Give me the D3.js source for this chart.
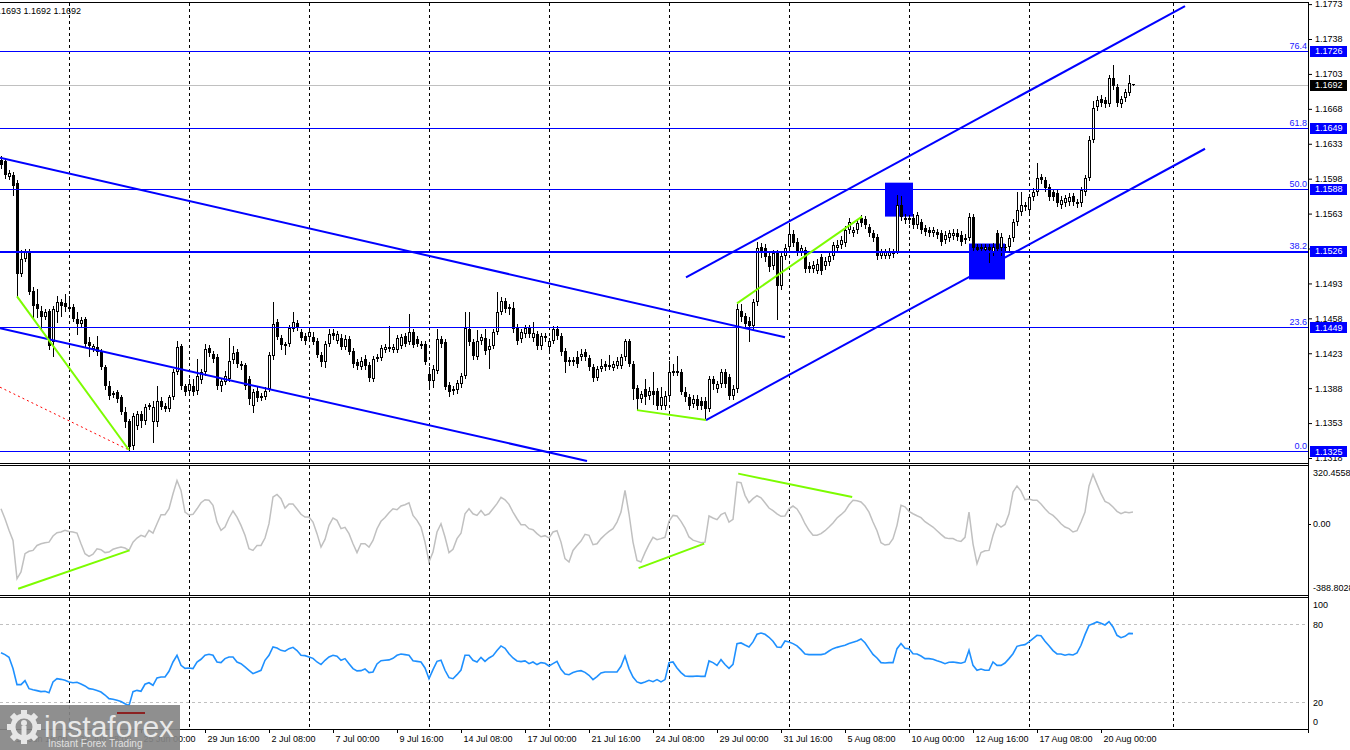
<!DOCTYPE html>
<html>
<head>
<meta charset="utf-8">
<script src="https://cdn.jsdelivr.net/npm/d3@7"></script>
<style>
body { margin: 0; background: #fff; overflow: hidden; }
text { font-family: "Liberation Sans", Arial, sans-serif; }
</style>
</head>
<body>
<svg id="chart" width="1350" height="750"></svg>
<script>
// 4h candles, [open, high, low, close]
var candles = [
[1.1617,1.1621,1.1609,1.1612],[1.1616,1.1618,1.1599,1.1602],[1.1600,1.1607,1.1598,1.1604],[1.1602,1.1605,1.1582,1.1591],
[1.1594,1.1597,1.1480,1.1502],[1.1502,1.1527,1.1500,1.1517],[1.1517,1.1528,1.1515,1.1524],[1.1525,1.1528,1.1482,1.1484],
[1.1485,1.1489,1.1457,1.1470],[1.1472,1.1487,1.1459,1.1467],[1.1465,1.1470,1.1447,1.1459],[1.1459,1.1467,1.1457,1.1464],
[1.1465,1.1467,1.1427,1.1430],[1.1434,1.1470,1.1420,1.1467],[1.1464,1.1480,1.1454,1.1474],[1.1474,1.1477,1.1460,1.1470],
[1.1473,1.1482,1.1465,1.1469],[1.1469,1.1480,1.1465,1.1467],[1.1469,1.1472,1.1455,1.1457],[1.1457,1.1464,1.1442,1.1452],
[1.1452,1.1459,1.1450,1.1456],[1.1457,1.1459,1.1430,1.1432],[1.1434,1.1439,1.1420,1.1430],[1.1427,1.1432,1.1425,1.1430],
[1.1429,1.1440,1.1421,1.1424],[1.1425,1.1427,1.1407,1.1409],[1.1409,1.1411,1.1387,1.1390],[1.1390,1.1395,1.1377,1.1380],
[1.1381,1.1385,1.1379,1.1383],[1.1384,1.1386,1.1374,1.1377],[1.1379,1.1381,1.1362,1.1364],[1.1364,1.1369,1.1349,1.1354],
[1.1355,1.1357,1.1326,1.1329],[1.1330,1.1363,1.1327,1.1360],[1.1350,1.1365,1.1347,1.1362],[1.1362,1.1365,1.1349,1.1355],
[1.1355,1.1372,1.1352,1.1369],[1.1369,1.1373,1.1367,1.1371],[1.1354,1.1375,1.1334,1.1369],[1.1354,1.1390,1.1350,1.1375],
[1.1375,1.1379,1.1367,1.1369],[1.1370,1.1373,1.1365,1.1367],[1.1367,1.1381,1.1365,1.1379],[1.1379,1.1407,1.1377,1.1404],
[1.1404,1.1435,1.1402,1.1429],[1.1430,1.1432,1.1387,1.1390],[1.1390,1.1392,1.1381,1.1384],[1.1385,1.1397,1.1382,1.1392],
[1.1390,1.1397,1.1381,1.1384],[1.1385,1.1417,1.1382,1.1400],[1.1396,1.1407,1.1393,1.1404],[1.1404,1.1432,1.1401,1.1427],
[1.1428,1.1431,1.1420,1.1423],[1.1422,1.1425,1.1414,1.1417],[1.1419,1.1422,1.1387,1.1390],[1.1390,1.1398,1.1385,1.1395],
[1.1394,1.1405,1.1392,1.1400],[1.1397,1.1438,1.1395,1.1415],[1.1416,1.1430,1.1413,1.1423],[1.1424,1.1427,1.1409,1.1412],
[1.1412,1.1415,1.1407,1.1410],[1.1411,1.1413,1.1387,1.1390],[1.1397,1.1400,1.1372,1.1377],[1.1370,1.1387,1.1364,1.1384],
[1.1385,1.1389,1.1375,1.1378],[1.1378,1.1383,1.1376,1.1380],[1.1379,1.1389,1.1377,1.1385],[1.1387,1.1424,1.1385,1.1421],
[1.1420,1.1474,1.1417,1.1452],[1.1454,1.1457,1.1437,1.1439],[1.1438,1.1441,1.1427,1.1431],[1.1432,1.1434,1.1422,1.1430],
[1.1432,1.1451,1.1430,1.1448],[1.1447,1.1464,1.1445,1.1454],[1.1453,1.1456,1.1446,1.1449],[1.1444,1.1447,1.1436,1.1438],
[1.1440,1.1443,1.1432,1.1435],[1.1439,1.1447,1.1437,1.1444],[1.1439,1.1444,1.1432,1.1434],[1.1435,1.1438,1.1419,1.1421],
[1.1421,1.1424,1.1410,1.1414],[1.1414,1.1435,1.1409,1.1432],[1.1432,1.1447,1.1430,1.1442],[1.1443,1.1447,1.1437,1.1440],
[1.1435,1.1445,1.1433,1.1442],[1.1438,1.1442,1.1427,1.1429],[1.1429,1.1441,1.1427,1.1437],[1.1437,1.1440,1.1422,1.1424],
[1.1425,1.1428,1.1409,1.1412],[1.1414,1.1417,1.1407,1.1410],[1.1409,1.1419,1.1407,1.1415],[1.1417,1.1421,1.1407,1.1410],
[1.1411,1.1414,1.1395,1.1398],[1.1397,1.1420,1.1395,1.1417],[1.1417,1.1422,1.1415,1.1419],[1.1418,1.1431,1.1416,1.1428],
[1.1426,1.1432,1.1424,1.1429],[1.1429,1.1450,1.1425,1.1427],[1.1426,1.1432,1.1424,1.1429],[1.1426,1.1441,1.1424,1.1438],
[1.1430,1.1442,1.1428,1.1439],[1.1440,1.1443,1.1430,1.1432],[1.1434,1.1462,1.1432,1.1444],[1.1444,1.1447,1.1429,1.1431],
[1.1437,1.1440,1.1430,1.1432],[1.1430,1.1435,1.1428,1.1432],[1.1432,1.1435,1.1412,1.1414],[1.1402,1.1409,1.1387,1.1395],
[1.1395,1.1411,1.1389,1.1407],[1.1405,1.1447,1.1403,1.1437],[1.1437,1.1440,1.1429,1.1432],[1.1434,1.1437,1.1387,1.1389],
[1.1391,1.1394,1.1380,1.1384],[1.1385,1.1390,1.1382,1.1387],[1.1386,1.1396,1.1383,1.1393],[1.1392,1.1403,1.1389,1.1400],
[1.1400,1.1464,1.1398,1.1448],[1.1447,1.1464,1.1431,1.1434],[1.1434,1.1437,1.1417,1.1420],[1.1419,1.1446,1.1417,1.1435],
[1.1435,1.1442,1.1432,1.1439],[1.1438,1.1447,1.1422,1.1425],[1.1426,1.1437,1.1408,1.1430],[1.1430,1.1447,1.1428,1.1444],
[1.1444,1.1484,1.1442,1.1464],[1.1464,1.1479,1.1462,1.1475],[1.1475,1.1478,1.1464,1.1467],[1.1467,1.1472,1.1462,1.1469],
[1.1468,1.1474,1.1444,1.1447],[1.1449,1.1452,1.1432,1.1435],[1.1437,1.1447,1.1434,1.1444],[1.1442,1.1451,1.1439,1.1448],
[1.1448,1.1451,1.1439,1.1442],[1.1438,1.1454,1.1435,1.1443],[1.1442,1.1445,1.1427,1.1430],[1.1430,1.1443,1.1427,1.1440],
[1.1438,1.1443,1.1435,1.1440],[1.1429,1.1438,1.1426,1.1435],[1.1435,1.1450,1.1433,1.1447],[1.1447,1.1450,1.1437,1.1440],
[1.1440,1.1443,1.1421,1.1424],[1.1425,1.1428,1.1404,1.1414],[1.1416,1.1419,1.1411,1.1414],[1.1414,1.1419,1.1411,1.1416],
[1.1419,1.1425,1.1409,1.1412],[1.1419,1.1427,1.1416,1.1422],[1.1424,1.1427,1.1416,1.1419],[1.1418,1.1421,1.1406,1.1409],
[1.1409,1.1412,1.1395,1.1398],[1.1398,1.1410,1.1396,1.1407],[1.1407,1.1417,1.1405,1.1410],[1.1412,1.1415,1.1406,1.1409],
[1.1409,1.1421,1.1407,1.1411],[1.1408,1.1415,1.1406,1.1412],[1.1410,1.1419,1.1408,1.1415],[1.1410,1.1422,1.1408,1.1419],
[1.1419,1.1437,1.1416,1.1435],[1.1435,1.1437,1.1410,1.1412],[1.1412,1.1415,1.1377,1.1387],[1.1388,1.1391,1.1367,1.1377],
[1.1377,1.1385,1.1374,1.1382],[1.1387,1.1397,1.1372,1.1379],[1.1380,1.1389,1.1377,1.1385],[1.1385,1.1404,1.1372,1.1381],
[1.1385,1.1388,1.1367,1.1370],[1.1370,1.1389,1.1367,1.1379],[1.1370,1.1385,1.1367,1.1380],[1.1380,1.1415,1.1377,1.1404],
[1.1403,1.1412,1.1401,1.1405],[1.1405,1.1420,1.1401,1.1403],[1.1404,1.1407,1.1382,1.1384],[1.1384,1.1389,1.1375,1.1379],
[1.1379,1.1382,1.1367,1.1370],[1.1372,1.1381,1.1369,1.1377],[1.1377,1.1381,1.1367,1.1370],[1.1375,1.1379,1.1367,1.1370],
[1.1375,1.1379,1.1357,1.1367],[1.1367,1.1400,1.1365,1.1397],[1.1397,1.1400,1.1387,1.1392],[1.1387,1.1395,1.1384,1.1392],
[1.1392,1.1407,1.1389,1.1404],[1.1404,1.1407,1.1389,1.1392],[1.1399,1.1402,1.1377,1.1380],[1.1380,1.1391,1.1377,1.1387],
[1.1387,1.1472,1.1384,1.1467],[1.1465,1.1472,1.1455,1.1459],[1.1460,1.1463,1.1449,1.1452],[1.1455,1.1459,1.1435,1.1450],
[1.1450,1.1477,1.1447,1.1474],[1.1474,1.1535,1.1471,1.1529],[1.1530,1.1534,1.1519,1.1525],[1.1529,1.1533,1.1515,1.1519],
[1.1520,1.1523,1.1505,1.1509],[1.1510,1.1527,1.1507,1.1523],[1.1523,1.1527,1.1457,1.1490],[1.1490,1.1525,1.1487,1.1520],
[1.1520,1.1533,1.1517,1.1529],[1.1530,1.1554,1.1527,1.1543],[1.1543,1.1547,1.1531,1.1534],[1.1535,1.1539,1.1521,1.1524],
[1.1524,1.1532,1.1521,1.1529],[1.1527,1.1530,1.1504,1.1507],[1.1510,1.1514,1.1504,1.1507],[1.1507,1.1515,1.1504,1.1511],
[1.1505,1.1517,1.1503,1.1512],[1.1519,1.1522,1.1502,1.1505],[1.1510,1.1519,1.1507,1.1515],[1.1514,1.1525,1.1511,1.1520],
[1.1520,1.1535,1.1517,1.1532],[1.1529,1.1537,1.1526,1.1532],[1.1532,1.1541,1.1529,1.1537],[1.1534,1.1551,1.1531,1.1547],
[1.1547,1.1559,1.1544,1.1555],[1.1544,1.1550,1.1541,1.1547],[1.1547,1.1558,1.1544,1.1554],[1.1559,1.1562,1.1551,1.1554],
[1.1558,1.1561,1.1549,1.1552],[1.1550,1.1553,1.1541,1.1544],[1.1544,1.1547,1.1536,1.1539],[1.1540,1.1543,1.1517,1.1520],
[1.1520,1.1528,1.1518,1.1524],[1.1520,1.1528,1.1518,1.1525],[1.1520,1.1529,1.1518,1.1525],[1.1525,1.1528,1.1519,1.1522],
[1.1525,1.1582,1.1523,1.1572],[1.1572,1.1581,1.1557,1.1560],[1.1559,1.1563,1.1554,1.1557],[1.1559,1.1562,1.1554,1.1557],
[1.1559,1.1563,1.1549,1.1552],[1.1552,1.1565,1.1549,1.1562],[1.1555,1.1558,1.1544,1.1547],[1.1549,1.1552,1.1542,1.1545],
[1.1547,1.1550,1.1541,1.1544],[1.1544,1.1550,1.1541,1.1547],[1.1545,1.1548,1.1539,1.1542],[1.1544,1.1547,1.1532,1.1535],
[1.1537,1.1546,1.1534,1.1542],[1.1539,1.1547,1.1536,1.1544],[1.1541,1.1548,1.1538,1.1544],[1.1544,1.1548,1.1537,1.1540],
[1.1542,1.1546,1.1532,1.1535],[1.1539,1.1543,1.1534,1.1537],[1.1539,1.1564,1.1537,1.1560],[1.1560,1.1563,1.1526,1.1529],
[1.1530,1.1533,1.1524,1.1527],[1.1530,1.1533,1.1525,1.1528],[1.1527,1.1533,1.1524,1.1530],[1.1530,1.1533,1.1514,1.1527],
[1.1524,1.1534,1.1521,1.1530],[1.1544,1.1547,1.1525,1.1528],[1.1529,1.1544,1.1521,1.1540],[1.1529,1.1533,1.1526,1.1530],
[1.1530,1.1542,1.1527,1.1539],[1.1539,1.1558,1.1536,1.1555],[1.1555,1.1585,1.1552,1.1567],[1.1565,1.1585,1.1562,1.1572],
[1.1570,1.1575,1.1567,1.1572],[1.1567,1.1583,1.1564,1.1580],[1.1580,1.1589,1.1577,1.1585],[1.1585,1.1614,1.1582,1.1599],
[1.1600,1.1603,1.1594,1.1597],[1.1597,1.1600,1.1586,1.1589],[1.1590,1.1593,1.1577,1.1580],[1.1585,1.1588,1.1577,1.1580],
[1.1584,1.1587,1.1571,1.1574],[1.1572,1.1581,1.1569,1.1577],[1.1574,1.1582,1.1571,1.1579],[1.1575,1.1584,1.1572,1.1580],
[1.1581,1.1584,1.1572,1.1575],[1.1575,1.1578,1.1570,1.1573],[1.1574,1.1590,1.1571,1.1587],[1.1585,1.1602,1.1582,1.1599],
[1.1599,1.1641,1.1597,1.1637],[1.1637,1.1676,1.1635,1.1669],[1.1670,1.1681,1.1667,1.1677],[1.1678,1.1682,1.1671,1.1674],
[1.1677,1.1680,1.1670,1.1673],[1.1673,1.1702,1.1671,1.1699],[1.1699,1.1712,1.1688,1.1691],[1.1690,1.1693,1.1671,1.1674],
[1.1673,1.1681,1.1670,1.1678],[1.1679,1.1688,1.1676,1.1685],[1.1684,1.1702,1.1682,1.1694],[1.1693,1.1693,1.1692,1.1692]
];

var cciValues = [
81,27,-36,-91,-299,-262,-163,-150,-145,-118,-109,-103,-100,-67,-49,-45,-36,-42,-45,-51,
-109,-163,-177,-165,-136,-141,-157,-154,-139,-132,-127,-132,-145,-100,-78,-63,-71,-36,-51,0,
49,49,81,163,235,181,63,47,51,81,114,130,127,100,9,-36,-18,31,69,36,
-9,-63,-136,-145,-118,-118,-78,0,145,159,136,85,107,107,80,51,36,36,9,-54,
-127,-85,-9,31,18,-27,-20,-54,-109,-157,-109,-109,-127,-91,-27,13,34,60,81,76,
96,103,114,45,18,-18,-100,-208,-154,-45,0,-72,-157,-139,-81,-52,54,81,54,45,
72,45,54,81,109,143,130,105,63,27,-5,-5,-27,-33,-54,-71,-65,-78,-45,-38,
-100,-190,-208,-145,-118,-94,-58,-63,-114,-109,-81,-60,-42,-27,9,63,181,54,-100,-199,
-208,-157,-112,-74,-87,-81,-74,13,45,42,13,-24,-72,-89,-96,-103,-100,42,31,22,
49,60,9,24,226,223,154,114,136,152,141,114,85,71,54,40,42,81,96,80,
45,0,-36,-63,-63,-54,-38,-18,4,31,49,69,103,127,125,118,96,63,9,-38,
-103,-116,-112,-81,-9,100,92,67,54,43,33,11,-4,-18,-38,-58,-76,-81,-81,-92,
-96,-74,63,-109,-217,-157,-147,-145,-63,0,-18,-4,54,172,205,177,130,134,127,127,
107,81,58,45,24,0,-18,-27,-45,-38,9,63,205,268,215,163,121,110,91,67,
54,63,60,63
];

var stochValues = [
58.1,56.6,54.5,45.8,33.4,33.4,36.5,30.3,29.5,28.8,28.0,28.3,27.2,35.5,38.0,37.5,36.8,35.5,34.9,35.2,
33.9,32.4,30.3,29.8,28.8,27.7,25.4,22.6,22.1,21.3,20.3,18.7,17.2,28.0,29.0,28.3,33.7,34.9,32.9,38.6,
39.3,39.3,43.7,50.9,56.1,48.3,46.0,46.3,45.8,50.9,53.0,56.1,56.8,56.1,50.9,50.4,53.5,54.8,54.8,50.9,
49.6,47.1,44.5,41.9,43.2,44.5,52.2,56.1,62.5,61.7,59.9,59.2,61.2,62.2,59.7,56.1,55.8,54.8,53.7,50.9,
48.9,52.2,54.8,56.1,55.3,52.2,53.5,49.6,45.8,44.0,44.2,45.5,42.7,43.2,49.4,51.9,52.2,52.5,53.7,56.1,
57.1,56.6,56.1,51.9,51.4,50.9,46.3,38.0,45.0,51.4,52.2,44.5,38.8,38.0,41.1,44.7,56.1,56.1,52.2,50.9,
54.5,51.4,54.0,55.8,59.7,63.3,61.5,57.3,54.0,51.7,51.2,51.7,49.6,50.9,48.9,50.4,49.9,47.8,49.6,51.4,
45.3,41.6,41.1,42.7,43.7,44.2,42.9,40.6,37.3,39.6,42.4,43.2,43.2,43.2,43.2,47.6,55.5,45.8,39.3,35.5,
34.4,35.5,36.8,35.7,37.3,35.5,37.3,50.4,50.9,46.3,42.7,40.1,39.8,39.8,40.1,39.8,39.8,51.7,50.4,48.3,
52.7,48.9,46.0,49.1,65.1,65.6,64.0,62.5,66.4,72.3,73.3,72.3,70.0,66.9,62.5,62.2,67.1,66.4,65.1,63.3,
60.4,57.1,56.6,56.6,56.6,56.6,57.3,59.4,61.2,62.2,63.0,63.8,65.1,66.1,67.1,68.7,65.8,61.2,56.8,54.0,
50.4,50.1,50.4,50.4,61.2,65.1,61.5,61.2,57.3,57.1,55.5,53.5,53.5,53.0,51.9,50.9,49.6,50.7,50.9,50.4,
49.9,50.9,59.9,48.3,44.5,45.5,44.5,44.5,50.9,48.3,48.3,50.1,53.5,57.3,63.0,63.8,64.3,66.4,68.9,71.5,
71.2,66.9,63.5,59.7,57.1,57.1,56.1,56.8,56.3,57.9,63.8,72.0,79.2,80.5,81.8,80.8,79.5,82.1,77.9,71.5,
69.7,70.7,73.0,72.8
];

var priceTicks = [1.1773,1.1738,1.1703,1.1668,1.1633,1.1598,1.1563,1.1528,1.1493,1.1458,1.1423,1.1388,1.1353,1.1318];
var fibLabels = ["76.4","61.8","50.0","38.2","23.6","0.0"];
var fibPrices = [1.1726,1.1649,1.1588,1.1526,1.1449,1.1325];
var lastPrice = 1.1692;
var ohlcText = "1.1693 1.1693 1.1692 1.1692";

var timeLabels = ["17 Jun 16:00","22 Jun 08:00","25 Jun 00:00","29 Jun 16:00","2 Jul 08:00","7 Jul 00:00",
  "9 Jul 16:00","14 Jul 08:00","17 Jul 00:00","21 Jul 16:00","24 Jul 08:00","29 Jul 00:00","31 Jul 16:00",
  "5 Aug 08:00","10 Aug 00:00","12 Aug 16:00","17 Aug 08:00","20 Aug 00:00"];
var labelBars = [3,19,35,51,67,83,99,115,131,147,163,179,195,211,227,243,259,275];
var weekBars = [17,47,77,107,137,167,197,227,257,293];

// drawn objects: [bar, price] end points
var channelLines = [
  [[-0.25,1.1619],[196,1.1439]],
  [[-0.25,1.1448],[146.5,1.1315]],
  [[171.25,1.1499],[296,1.1771]],
  [[176.25,1.1356],[301,1.1628]]
];
var greenPriceLines = [
  [[4,1.1480],[32,1.1326]],
  [[159,1.1366],[176.25,1.1356]],
  [[184,1.1473],[215.25,1.1560]]
];
var redDotLine = [[-0.25,1.1389],[32,1.1326]];
var boxes = [
  [[221,1.1594],[228,1.1560]],
  [[242,1.1533],[251,1.1497]]
];
var greenCciLines = [
  [[4.3,-353],[32.1,-145]],
  [[159.4,-241],[175.8,-108]],
  [[184.3,272],[212.8,145]]
];

var cciMax = 320.4558, cciMin = -388.8028;

var svg = d3.select("#chart");
var right = 1308;

var x = d3.scaleLinear().domain([0, 283]).range([1, 1133]);
var yPrice = d3.scaleLinear().domain([1.1318, 1.1773]).range([458, 4.1]);
var yCci = d3.scaleLinear().domain([cciMin, cciMax]).range([595.3, 464.7]);
var yStoch = d3.scaleLinear().domain([0, 100]).range([727.9, 598.4]);

var defs = svg.append("defs");
function clip(id, y0, y1) {
    defs.append("clipPath").attr("id", id).append("rect")
        .attr("x", 0).attr("y", y0).attr("width", right).attr("height", y1 - y0);
}
clip("cMain", 3, 463);
clip("cCci", 466, 595);
clip("cSto", 598, 729);

function grid(g, y0, y1) {
    g.append("g").selectAll("line").data(weekBars).join("line")
        .attr("x1", function (d) { return Math.round(x(d)) + 0.5; })
        .attr("x2", function (d) { return Math.round(x(d)) + 0.5; })
        .attr("y1", y0).attr("y2", y1)
        .attr("stroke", "#000").attr("stroke-dasharray", "3,3")
        .attr("shape-rendering", "crispEdges");
}

// ---- main price panel ----
var main = svg.append("g").attr("clip-path", "url(#cMain)");
grid(main, 3, 463);

main.selectAll("rect.box").data(boxes).join("rect")
    .attr("x", function (d) { return x(d[0][0]); })
    .attr("y", function (d) { return yPrice(d[0][1]); })
    .attr("width", function (d) { return x(d[1][0]) - x(d[0][0]); })
    .attr("height", function (d) { return yPrice(d[1][1]) - yPrice(d[0][1]); })
    .attr("fill", "#0000ff");

main.append("line")
    .attr("x1", 0).attr("x2", right)
    .attr("y1", Math.round(yPrice(lastPrice)) + 0.5).attr("y2", Math.round(yPrice(lastPrice)) + 0.5)
    .attr("stroke", "#c0c0c0").attr("shape-rendering", "crispEdges");

var cg = main.append("g").attr("shape-rendering", "crispEdges");
candles.forEach(function (d, i) {
    var cx = Math.round(x(i));
    var top = Math.round(yPrice(Math.max(d[0], d[3])));
    var bot = Math.round(yPrice(Math.min(d[0], d[3])));
    cg.append("line")
        .attr("x1", cx + 0.5).attr("x2", cx + 0.5)
        .attr("y1", Math.round(yPrice(d[1]))).attr("y2", Math.round(yPrice(d[2])) + 1)
        .attr("stroke", "#000");
    if (bot - top < 2) {
        cg.append("rect").attr("x", cx - 1).attr("y", top).attr("width", 3).attr("height", 1).attr("fill", "#000");
    } else if (d[3] >= d[0]) {
        cg.append("rect").attr("x", cx - 0.5).attr("y", top + 0.5)
            .attr("width", 2).attr("height", bot - top - 1)
            .attr("fill", "#fff").attr("stroke", "#000");
    } else {
        cg.append("rect").attr("x", cx - 1).attr("y", top)
            .attr("width", 3).attr("height", bot - top).attr("fill", "#000");
    }
});

main.selectAll("line.fib").data(fibPrices).join("line")
    .attr("x1", 0).attr("x2", right)
    .attr("y1", function (d) { return Math.round(yPrice(d)) + 0.5; })
    .attr("y2", function (d) { return Math.round(yPrice(d)) + 0.5; })
    .attr("stroke", "#0000ff")
    .attr("stroke-width", function (d, i) { return fibLabels[i] == "38.2" ? 2 : 1; })
    .attr("shape-rendering", "crispEdges");

main.selectAll("text.fib").data(fibPrices).join("text")
    .attr("x", 1307).attr("y", function (d) { return yPrice(d) - 2; })
    .attr("text-anchor", "end").attr("font-size", 9).attr("fill", "#2020ff")
    .text(function (d, i) { return fibLabels[i]; });

var seg = d3.line().x(function (d) { return x(d[0]); }).y(function (d) { return yPrice(d[1]); });

main.selectAll("path.red").data([redDotLine]).join("path")
    .attr("d", seg).attr("stroke", "#ff0000").attr("stroke-dasharray", "2,3").attr("fill", "none");

main.selectAll("path.chan").data(channelLines).join("path")
    .attr("d", seg).attr("stroke", "#0000ff").attr("stroke-width", 2).attr("fill", "none");

main.selectAll("path.grn").data(greenPriceLines).join("path")
    .attr("d", seg).attr("stroke", "#7cfc00").attr("stroke-width", 2).attr("fill", "none");

svg.append("text").attr("x", 81).attr("y", 14).attr("text-anchor", "end")
    .attr("font-size", 9).attr("fill", "#000").text(ohlcText);

// ---- CCI panel ----
var cci = svg.append("g").attr("clip-path", "url(#cCci)");
grid(cci, 466, 595);
cci.append("path").datum(cciValues)
    .attr("d", d3.line().x(function (d, i) { return x(i); }).y(function (d) { return yCci(d); }))
    .attr("fill", "none").attr("stroke", "#c0c0c0").attr("stroke-width", 1.5);
var segC = d3.line().x(function (d) { return x(d[0]); }).y(function (d) { return yCci(d[1]); });
cci.selectAll("path.g").data(greenCciLines).join("path")
    .attr("d", segC).attr("stroke", "#7cfc00").attr("stroke-width", 2).attr("fill", "none");

// ---- oscillator panel ----
var sto = svg.append("g").attr("clip-path", "url(#cSto)");
grid(sto, 598, 729);
sto.selectAll("line.lvl").data([80, 20]).join("line")
    .attr("x1", 0).attr("x2", right)
    .attr("y1", function (d) { return Math.round(yStoch(d)) + 0.5; })
    .attr("y2", function (d) { return Math.round(yStoch(d)) + 0.5; })
    .attr("stroke", "#c0c0c0").attr("stroke-dasharray", "3,3").attr("shape-rendering", "crispEdges");
sto.append("path").datum(stochValues)
    .attr("d", d3.line().x(function (d, i) { return x(i); }).y(function (d) { return yStoch(d); }))
    .attr("fill", "none").attr("stroke", "#1e90ff").attr("stroke-width", 1.6);

// ---- frames ----
var frame = svg.append("g").attr("stroke", "#000").attr("shape-rendering", "crispEdges");
[2.5, 463.5, 465.5, 595.5, 597.5, 729.5].forEach(function (y) {
    frame.append("line").attr("x1", 0).attr("x2", right + 1).attr("y1", y).attr("y2", y);
});
frame.append("line").attr("x1", right + 0.5).attr("x2", right + 0.5).attr("y1", 2).attr("y2", 733);

// ---- price axis ----
var pAxis = svg.append("g").attr("transform", "translate(" + right + ",0)")
    .call(d3.axisRight(yPrice).tickValues(priceTicks).tickSize(4).tickPadding(3).tickFormat(d3.format(".4f")));
pAxis.select(".domain").remove();
pAxis.selectAll("text").attr("font-size", 9).attr("font-family", "Liberation Sans, Arial, sans-serif");

var tags = svg.append("g");
fibPrices.concat([lastPrice]).forEach(function (p) {
    var yy = yPrice(p);
    tags.append("rect").attr("x", 1310).attr("y", Math.round(yy) - 5).attr("width", 37).attr("height", 11)
        .attr("fill", p == lastPrice ? "#000" : "#0000ff");
    tags.append("text").attr("x", 1315).attr("y", yy + 3.5).attr("font-size", 9).attr("fill", "#fff")
        .text(d3.format(".4f")(p));
});

// CCI and oscillator scales
var side = svg.append("g").attr("font-size", 9).attr("fill", "#000");
side.append("text").attr("x", 1313).attr("y", yCci(cciMax) + 11).text("320.4558");
side.append("text").attr("x", 1313).attr("y", yCci(0) + 3.5).text("0.00");
side.append("text").attr("x", 1313).attr("y", yCci(cciMin) - 4).text("-388.8028");
side.append("line").attr("x1", right).attr("x2", right + 3).attr("y1", Math.round(yCci(0)) + 0.5)
    .attr("y2", Math.round(yCci(0)) + 0.5).attr("stroke", "#000");
[[100, 10], [80, 3.5], [20, 3.5], [0, -2.5]].forEach(function (l) {
    side.append("text").attr("x", 1313).attr("y", yStoch(l[0]) + l[1]).text(l[0]);
});

// ---- time axis ----
var tAxis = svg.append("g").attr("transform", "translate(0,729)")
    .call(d3.axisBottom(x).tickValues(labelBars).tickSize(4).tickPadding(3)
        .tickFormat(function (d, i) { return timeLabels[i]; }));
tAxis.select(".domain").remove();
tAxis.selectAll("text").attr("text-anchor", "start").attr("dx", 2)
    .attr("font-size", 9).attr("font-family", "Liberation Sans, Arial, sans-serif");

// ---- watermark ----
var logo = svg.append("g");
logo.append("rect").attr("x", 0).attr("y", 705).attr("width", 180).attr("height", 45)
    .attr("fill", "#858585").attr("opacity", 0.92);
var gear = logo.append("g").attr("transform", "translate(24,727)").attr("fill", "#e6e6e6");
d3.range(8).forEach(function (k) {
    gear.append("rect").attr("x", -3).attr("y", -17).attr("width", 6).attr("height", 7)
        .attr("transform", "rotate(" + (k * 45) + ")");
});
gear.append("circle").attr("r", 11).attr("fill", "none").attr("stroke", "#e6e6e6").attr("stroke-width", 5);
gear.append("circle").attr("cy", -4).attr("r", 3);
gear.append("rect").attr("x", -2.5).attr("y", -1).attr("width", 5).attr("height", 10);
logo.append("rect").attr("x", 117).attr("y", 712).attr("width", 28).attr("height", 2).attr("fill", "#8b2222");
logo.append("text").attr("x", 44).attr("y", 737).attr("font-size", 30).attr("fill", "#e8e8e8").text("instaforex");
logo.append("text").attr("x", 48).attr("y", 747).attr("font-size", 10).attr("fill", "#e0e0e0").text("Instant Forex Trading");
</script>
</body>
</html>
